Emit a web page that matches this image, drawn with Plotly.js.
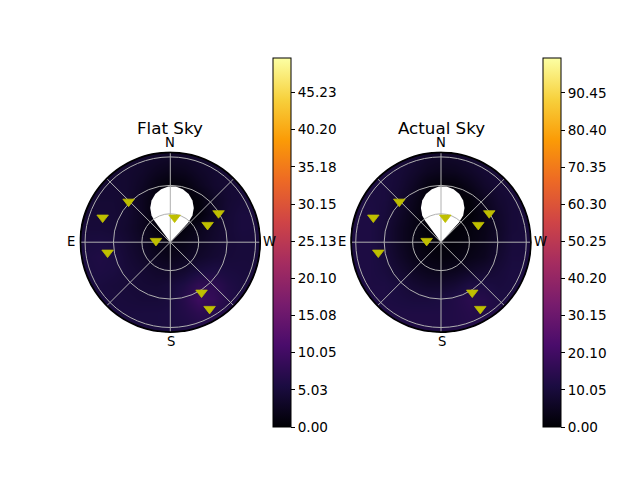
<!DOCTYPE html>
<html><head><meta charset="utf-8">
<script src="https://cdn.plot.ly/plotly-3.0.1.min.js"></script>
<style>html,body{margin:0;padding:0;background:#fff}#chart{width:640px;height:480px}</style>
</head><body><div id="chart"></div><script>
// sky grid (x: + toward W / right, y: + toward N / up), rows listed top (N) to bottom (S)
const gridX = [-90,-75,-60,-45,-30,-15,0,15,30,45,60,75,90];
const gridY = [90,75,60,45,30,15,0,-15,-30,-45,-60,-75,-90];

const flatSky = [
  [4.2,4.2,4.2,4.0,3.8,3.5,3.2,3.4,3.8,4.0,4.2,4.3,4.3],
  [4.2,4.2,4.2,4.0,3.5,2.6,2.0,2.4,3.3,4.0,4.3,4.5,4.5],
  [4.3,4.3,4.3,4.0,3.0,1.5,0.5,1.0,2.5,3.8,4.4,4.6,4.6],
  [4.4,4.4,4.4,4.0,2.5,0.8,0.0,0.0,0.8,3.0,4.3,4.8,4.8],
  [4.6,4.6,4.5,4.0,2.5,0.5,0.0,0.0,0.5,2.8,4.5,5.3,5.2],
  [4.8,4.8,4.6,3.8,2.5,1.0,0.0,1.0,2.2,3.5,4.6,5.3,5.2],
  [5.3,5.5,5.2,4.2,3.0,1.8,1.2,1.8,2.8,3.8,4.6,5.0,5.0],
  [5.6,6.0,5.6,4.5,3.5,2.5,2.0,2.6,3.5,4.3,4.8,5.0,5.0],
  [5.5,5.8,5.5,4.8,4.2,3.6,3.4,4.0,5.2,5.8,5.4,5.2,5.0],
  [5.3,5.3,5.0,4.8,4.5,4.4,4.8,6.0,8.0,7.8,6.2,5.4,5.2],
  [5.2,5.2,5.2,5.0,4.8,4.8,5.2,7.0,9.5,8.5,6.5,5.5,5.3],
  [5.3,5.3,5.3,5.3,5.4,5.4,5.6,6.4,7.5,7.0,6.0,5.5,5.3],
  [5.3,5.3,5.3,5.3,5.3,5.4,5.5,5.8,6.2,6.0,5.6,5.4,5.3]
];

const actualSky = [
  [10,10,10,9.5,8.5,7,6.5,7,8,9,9.5,10,10],
  [10.5,10.5,10.5,9.5,7.5,5.5,4.5,5,6.5,8.5,9.5,10,10],
  [11,11,10.5,9,6,2.5,1,1.5,4,7,9,10,10],
  [11,11,10.5,8,4.5,1,0,0,1,5,8,9.5,10],
  [11.5,11.5,10,7,3.5,0.5,0,0,0.5,3.5,7,9.5,10],
  [11.5,11.5,9.5,6,3,1,0,0.8,1.8,3.5,6.5,9.5,10],
  [11.5,11.5,9.5,6,3,1.5,0.8,1.2,2.2,4,7,10,10.5],
  [11.5,11.5,10,7,4,2.5,1.8,2.2,3.5,5,8,10.5,10.5],
  [11.5,11.5,10.5,8.5,6,4.5,4,4.8,6.5,8,9.5,11,11],
  [11.5,11.5,11.5,10.5,8.5,7.5,7.5,9,11.5,11.5,10.5,11,11],
  [11.5,11.5,11.5,11,10.5,10.5,11,12.5,14.5,13.5,11.5,11,11],
  [12,12,12,12,12,12,12,12.5,13.5,13,12,11.5,11.5],
  [12,12,12,12,12,12,12,12.5,13,12.5,12,11.5,11.5]
];

// masked (moon) region boundary, same sky units
const moonX = [0,-16.6,-19.8,-21.2,-19.8,-15.8,-9.7,-2.2,5.8,13.3,19.4,23.4,24.8,23.4,18.8,0];
const moonY = [0,22.3,28.1,36.0,43.9,50.8,55.9,58.7,58.7,55.9,50.8,43.9,36.0,28.1,20.5,0];

// stars: zenith distance and azimuth (deg, N=0, E=90)
const starR = [61.4,76.0,26.4,59.4,43.4,15.2,67.1,62.6,81.7];
const starTheta = [45.8,70.0,350.1,301.0,294.9,84.8,99.4,211.8,210.5];

const dirVals = [0,45,90,135,180,225,270,315];
const dirLabels = ['N','E','S','W'];
const ringVals = [30,60,90];

const flatMax = 49.9, actualMax = 99.9;
const flatTickVals = [0,5.0256,10.0512,15.0768,20.1024,25.128,30.1536,35.1792,40.2048,45.2304];
const flatTickText = ['0.00','5.03','10.05','15.08','20.10','25.13','30.15','35.18','40.20','45.23'];
const actualTickVals = [0,10.05,20.10,30.15,40.20,50.25,60.30,70.35,80.40,90.45];
const actualTickText = ['0.00','10.05','20.10','30.15','40.20','50.25','60.30','70.35','80.40','90.45'];

const inferno = [[0,'#000004'],[0.1111,'#1b0c41'],[0.2222,'#4a0c6b'],[0.3333,'#781c6d'],[0.4444,'#a52c60'],
  [0.5556,'#cf4446'],[0.6667,'#ed6925'],[0.7778,'#fb9b06'],[0.8889,'#f7d13d'],[1,'#fcffa4']];

const FONT = 'DejaVu Sans, Liberation Sans, sans-serif';
const W = 640, H = 480;
const RMAX = 95;
const CY = 242.2;
const centers = [170.3, 441];
const dom = (cx, cy, rad) => ({x:[(cx-rad)/W,(cx+rad)/W], y:[1-(cy+rad)/H, 1-(cy-rad)/H]});
const dL = dom(centers[0], CY, 90), dR = dom(centers[1], CY, 90);

function cbar(xpx, tv, tt){
  return {x:xpx/W, xanchor:'left', xpad:0, ypad:0, y:1-242.5/H, yanchor:'middle',
    len:368.5, lenmode:'pixels', thickness:18, thicknessmode:'pixels',
    outlinewidth:1, outlinecolor:'#000', ticks:'outside', ticklen:4, tickwidth:1, tickcolor:'#000',
    tickmode:'array', tickvals:tv, ticktext:tt, tickfont:{family:FONT,size:13.6,color:'#000'}};
}

const starMarker = {symbol:'triangle-down', size:10, color:'#bfbf00', line:{width:0.8, color:'#bfbf00'}};
const traces = [
  {type:'heatmap', x:gridX, y:gridY, z:flatSky, xaxis:'x', yaxis:'y', zsmooth:'best',
   colorscale:inferno, zmin:0, zmax:flatMax, hoverinfo:'skip', colorbar:cbar(272.5, flatTickVals, flatTickText)},
  {type:'heatmap', x:gridX, y:gridY, z:actualSky, xaxis:'x2', yaxis:'y2', zsmooth:'best',
   colorscale:inferno, zmin:0, zmax:actualMax, hoverinfo:'skip', colorbar:cbar(542.5, actualTickVals, actualTickText)},
  {type:'scatter', x:moonX, y:moonY, xaxis:'x', yaxis:'y', mode:'lines', fill:'toself', fillcolor:'#ffffff',
   line:{width:0, color:'#ffffff'}, hoverinfo:'skip'},
  {type:'scatter', x:moonX, y:moonY, xaxis:'x2', yaxis:'y2', mode:'lines', fill:'toself', fillcolor:'#ffffff',
   line:{width:0, color:'#ffffff'}, hoverinfo:'skip'},
  {type:'scatterpolar', subplot:'polar', r:starR, theta:starTheta, mode:'markers', marker:starMarker},
  {type:'scatterpolar', subplot:'polar2', r:starR, theta:starTheta, mode:'markers', marker:starMarker}
];

function polarCfg(d){
  return {domain:d, bgcolor:'rgba(0,0,0,0)',
    angularaxis:{rotation:90, direction:'counterclockwise', tickmode:'array', tickvals:dirVals,
      showticklabels:false, ticks:'', showline:true, linecolor:'#000', linewidth:2,
      gridcolor:'#b0b0b0', gridwidth:1, layer:'below traces'},
    radialaxis:{range:[0,RMAX], tickmode:'array', tickvals:ringVals, showticklabels:false, ticks:'', showline:false,
      gridcolor:'#b0b0b0', gridwidth:1, layer:'below traces'}};
}
function cartAx(d){ return {domain:d, range:[-RMAX,RMAX], visible:false, fixedrange:true}; }

// mask outside the sky circle, in axis-domain units (0..1), not clipped
const hr = 0.5*95.8/RMAX, kk = 0.5523*hr, e0 = -0.03, e1 = 1.03;
const maskPath = `M ${e0},${e0} L ${e1},${e0} L ${e1},${e1} L ${e0},${e1} Z ` +
  `M ${0.5+hr},0.5 C ${0.5+hr},${0.5-kk} ${0.5+kk},${0.5-hr} 0.5,${0.5-hr} ` +
  `C ${0.5-kk},${0.5-hr} ${0.5-hr},${0.5-kk} ${0.5-hr},0.5 ` +
  `C ${0.5-hr},${0.5+kk} ${0.5-kk},${0.5+hr} 0.5,${0.5+hr} ` +
  `C ${0.5+kk},${0.5+hr} ${0.5+hr},${0.5+kk} ${0.5+hr},0.5 Z`;

// compass labels around each sky map (pixel offsets from centre)
const labelOffsets = [[0,-99.6],[-99.3,-0.8],[0.5,99.5],[99,-0.8]];
const annotations = [];
const titles = ['Flat Sky','Actual Sky'];
centers.forEach((cx, i) => {
  annotations.push({text:titles[i], xref:'paper', yref:'paper', x:cx/W, y:1-127.8/H, xanchor:'center', yanchor:'middle',
    showarrow:false, borderpad:0, font:{family:FONT, size:16.7, color:'#000'}});
  dirLabels.forEach((t, j) => {
    annotations.push({text:t, xref:'paper', yref:'paper', x:(cx+labelOffsets[j][0])/W, y:1-(CY+labelOffsets[j][1])/H,
      xanchor:'center', yanchor:'middle', showarrow:false, borderpad:0, font:{family:FONT, size:13.2, color:'#000'}});
  });
});

const layout = {
  width:W, height:H, margin:{l:0,r:0,t:0,b:0}, paper_bgcolor:'#fff', plot_bgcolor:'#fff', showlegend:false,
  font:{family:FONT, color:'#000'},
  xaxis:cartAx(dL.x), yaxis:cartAx(dL.y), xaxis2:cartAx(dR.x), yaxis2:cartAx(dR.y),
  polar:polarCfg(dL), polar2:polarCfg(dR),
  shapes:[
    {type:'path', xref:'x domain', yref:'y domain', path:maskPath, fillcolor:'#ffffff', line:{width:0}, layer:'above'},
    {type:'path', xref:'x2 domain', yref:'y2 domain', path:maskPath, fillcolor:'#ffffff', line:{width:0}, layer:'above'}
  ],
  annotations:annotations
};

Plotly.newPlot('chart', traces, layout, {staticPlot:true, displayModeBar:false});
</script></body></html>
